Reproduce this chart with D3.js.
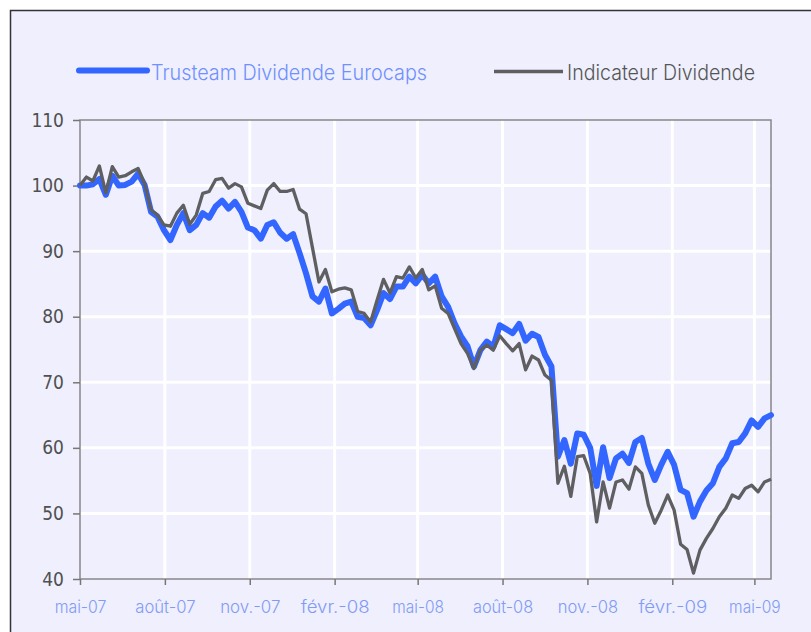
<!DOCTYPE html>
<html>
<head>
<meta charset="utf-8">
<script src="https://cdn.jsdelivr.net/npm/d3@7"></script>
<style>
  html, body { margin: 0; padding: 0; background: #ffffff; }
  svg { display: block; }
</style>
</head>
<body>
<svg id="chart" width="811" height="632"></svg>
<script>
// weekly values, first week = start of May 2007
var fundValues = [
  100, 100.0, 100.2, 101.0, 98.6, 101.5, 100.0, 100.1, 100.6, 101.8,
  100.1, 96.0, 95.25, 93.2, 91.7, 94.0, 95.8, 93.2, 94.0, 95.8,
  95.1, 96.8, 97.7, 96.5, 97.5, 96.0, 93.6, 93.2, 91.9, 94.0,
  94.4, 92.8, 91.9, 92.6, 89.7, 86.6, 83.1, 82.3, 84.3, 80.5,
  81.2, 82.0, 82.3, 80.0, 79.8, 78.7, 81.0, 83.6, 82.7, 84.6,
  84.6, 86.1, 85.1, 86.4, 85.1, 86.1, 83.1, 81.5, 79.0, 77.0,
  75.5, 72.4, 74.9, 76.2, 75.4, 78.7, 78.1, 77.5, 78.9, 76.35,
  77.4, 76.9, 74.2, 72.4, 58.65, 61.2, 57.6, 62.2, 62.0, 60.0,
  54.2, 60.1, 55.4, 58.4, 59.1, 57.7, 60.9, 61.5, 57.6, 55.1,
  57.4, 59.4, 57.4, 53.6, 53.1, 49.5, 51.8, 53.5, 54.6, 57.1,
  58.4, 60.7, 60.9, 62.2, 64.2, 63.2, 64.5, 65.0
];
var indexValues = [
  100, 101.3, 100.7, 103.0, 98.9, 102.9, 101.3, 101.5, 102.1, 102.6,
  100.3, 96.3, 95.5, 94.0, 93.8, 95.8, 97.0, 94.1, 95.5, 98.8,
  99.1, 100.9, 101.1, 99.6, 100.3, 99.8, 97.3, 96.9, 96.5, 99.3,
  100.3, 99.1, 99.1, 99.4, 96.4, 95.7, 90.5, 85.3, 87.2, 83.8,
  84.2, 84.4, 84.1, 80.8, 80.5, 79.2, 82.5, 85.7, 83.6, 86.1,
  85.9, 87.6, 85.9, 87.2, 84.1, 84.7, 81.3, 80.5, 78.2, 75.9,
  74.4, 72.1, 74.9, 75.7, 74.9, 77.1, 75.9, 74.8, 75.9, 71.9,
  74.0, 73.4, 71.1, 70.3, 54.6, 57.2, 52.6, 58.65, 58.8, 56.1,
  48.7, 54.8, 50.8, 54.8, 55.1, 53.7, 57.1, 56.1, 51.3, 48.5,
  50.5, 52.8, 50.5, 45.3, 44.5, 40.9, 44.4, 46.2, 47.7, 49.5,
  50.8, 52.8, 52.3, 53.8, 54.3, 53.3, 54.8, 55.2
];
var seriesNames = ['Trusteam Dividende Eurocaps', 'Indicateur Dividende'];
var tickLabels = ['mai-07', 'août-07', 'nov.-07', 'févr.-08', 'mai-08',
                  'août-08', 'nov.-08', 'févr.-09', 'mai-09'];
var yTicks = [40, 50, 60, 70, 80, 90, 100, 110];

var startDate = new Date(2007, 4, 4);
var dates = fundValues.map(function(v, i) { return d3.timeDay.offset(startDate, 7 * i); });
var tickDates = tickLabels.map(function(l, k) { return d3.timeMonth.offset(startDate, 3 * k); });

var BG = '#efeffd';
var LEFT = 80, RIGHT = 771, TOP = 120, BOTTOM = 579;

var svg = d3.select('#chart');

// frame
svg.append('rect').attr('x', 10.5).attr('y', 10.5).attr('width', 830).attr('height', 650)
   .attr('fill', BG).attr('stroke', '#333').attr('stroke-width', 1.5);

var x = d3.scaleTime().domain([startDate, dates[dates.length - 1]]).range([LEFT, RIGHT]);
var y = d3.scaleLinear().domain([40, 110]).range([BOTTOM, TOP]);

// grid
svg.append('g').selectAll('line').data(yTicks.slice(1, -1)).join('line')
   .attr('x1', LEFT).attr('x2', RIGHT)
   .attr('y1', function(d) { return y(d); }).attr('y2', function(d) { return y(d); })
   .attr('stroke', '#ffffff').attr('stroke-width', 3);
svg.append('g').selectAll('line').data(tickDates.slice(1)).join('line')
   .attr('x1', function(d) { return x(d); }).attr('x2', function(d) { return x(d); })
   .attr('y1', TOP).attr('y2', BOTTOM)
   .attr('stroke', '#ffffff').attr('stroke-width', 3);

// plot border
svg.append('rect').attr('x', LEFT).attr('y', TOP)
   .attr('width', RIGHT - LEFT).attr('height', BOTTOM - TOP)
   .attr('fill', 'none').attr('stroke', '#888').attr('stroke-width', 1.5);

// axes
var yAxis = svg.append('g').attr('transform', 'translate(' + LEFT + ',0)')
   .call(d3.axisLeft(y).tickValues(yTicks).tickSize(7).tickPadding(9));
yAxis.select('.domain').remove();
yAxis.selectAll('line').attr('stroke', '#777').attr('stroke-width', 1.5);
yAxis.selectAll('text').attr('fill', '#505050')
   .style('font-family', '"DejaVu Sans Condensed", "DejaVu Sans", sans-serif')
   .style('font-size', '19px');

var xAxis = svg.append('g').attr('transform', 'translate(0,' + BOTTOM + ')')
   .call(d3.axisBottom(x).tickValues(tickDates)
           .tickFormat(function(d, i) { return tickLabels[i]; })
           .tickSize(6).tickPadding(16));
xAxis.select('.domain').remove();
xAxis.selectAll('line').attr('stroke', '#777').attr('stroke-width', 1.5);
xAxis.selectAll('text').attr('fill', '#7f9bf6')
   .style('font-family', 'Inter, "DejaVu Sans Condensed", sans-serif')
   .style('font-weight', '300')
   .style('font-size', '17px')
   .attr('textLength', function(d, i) { return tickLabels[i].length * 8.6; })
   .attr('lengthAdjust', 'spacingAndGlyphs');

// lines
var line = d3.line()
   .x(function(d, i) { return x(dates[i]); })
   .y(function(d) { return y(d); });

svg.append('path').datum(fundValues).attr('d', line)
   .attr('fill', 'none').attr('stroke', '#3366ff').attr('stroke-width', 6)
   .attr('stroke-linejoin', 'round').attr('stroke-linecap', 'round');
svg.append('path').datum(indexValues).attr('d', line)
   .attr('fill', 'none').attr('stroke', '#5f5f62').attr('stroke-width', 3.3)
   .attr('stroke-linejoin', 'round');

// legend
var legend = svg.append('g');
legend.append('line').attr('x1', 79).attr('x2', 147).attr('y1', 70.5).attr('y2', 70.5)
   .attr('stroke', '#3366ff').attr('stroke-width', 6).attr('stroke-linecap', 'round');
legend.append('text').attr('x', 151).attr('y', 80).text(seriesNames[0])
   .attr('fill', '#7090ff')
   .style('font-family', 'Inter, "DejaVu Sans Condensed", sans-serif')
   .style('font-weight', '300').style('font-size', '21px')
   .attr('textLength', 276).attr('lengthAdjust', 'spacingAndGlyphs');
legend.append('line').attr('x1', 494).attr('x2', 563).attr('y1', 71.5).attr('y2', 71.5)
   .attr('stroke', '#5f5f62').attr('stroke-width', 3.3);
legend.append('text').attr('x', 567).attr('y', 80).text(seriesNames[1])
   .attr('fill', '#555')
   .style('font-family', 'Inter, "DejaVu Sans Condensed", sans-serif')
   .style('font-weight', '300').style('font-size', '21px')
   .attr('textLength', 188).attr('lengthAdjust', 'spacingAndGlyphs');
</script>
</body>
</html>
